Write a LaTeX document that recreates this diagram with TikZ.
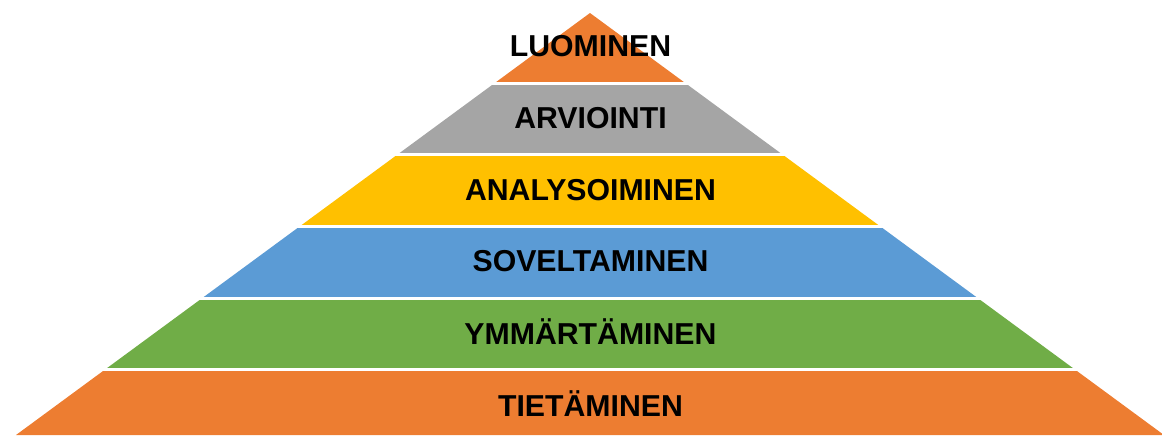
\documentclass[tikz,border=0pt]{standalone}
\usepackage{fontspec}
\setmainfont{Liberation Sans}

\definecolor{levelorange}{HTML}{ED7D31}
\definecolor{levelgray}{HTML}{A5A5A5}
\definecolor{levelyellow}{HTML}{FFC000}
\definecolor{levelblue}{HTML}{5B9BD5}
\definecolor{levelgreen}{HTML}{70AD47}

\tikzset{
  level/.style={font=\bfseries\fontsize{8.6}{10}\selectfont, text=black, inner sep=0pt},
  gap/.style={draw=white, line width=0.9pt}
}

\begin{document}
\begin{tikzpicture}[x=0.01cm, y=-0.01cm]
        \useasboundingbox (0,0) rectangle (1162,435);

        % Pyramid corners
            \coordinate (apex) at (590,13);
            \coordinate (baseleft) at (16,435);
            \coordinate (baseright) at (1164,435);

            % Coloured layers, cut to the triangle
            \begin{scope}
                \clip (apex) -- (baseleft) -- (baseright) -- cycle;
                \fill[levelorange] (0,0) rectangle (1170,83.3);
                \fill[levelgray] (0,83.3) rectangle (1170,154.9);
                \fill[levelyellow] (0,154.9) rectangle (1170,226.5);
                \fill[levelblue] (0,226.5) rectangle (1170,298.1);
                \fill[levelgreen] (0,298.1) rectangle (1170,369.7);
                \fill[levelorange] (0,369.7) rectangle (1170,440);
            \end{scope}

            % White gaps between the layers
            \draw[gap] (0,83.3) -- (1170,83.3);
            \draw[gap] (0,154.9) -- (1170,154.9);
            \draw[gap] (0,226.5) -- (1170,226.5);
            \draw[gap] (0,298.1) -- (1170,298.1);
            \draw[gap] (0,369.7) -- (1170,369.7);

            % Labels
            \node[level] (luominen) at (590.5,46.5) {LUOMINEN};
            \node[level] (arviointi) at (590.5,118.5) {ARVIOINTI};
            \node[level] (analysoiminen) at (590.5,190) {ANALYSOIMINEN};
            \node[level] (soveltaminen) at (590.5,261.5) {SOVELTAMINEN};
            \node[level] (ymmartaminen) at (590.5,332) {YMMÄRTÄMINEN};
            \node[level] (tietaminen) at (590.5,404) {TIETÄMINEN};
    \end{tikzpicture}
\end{document}
